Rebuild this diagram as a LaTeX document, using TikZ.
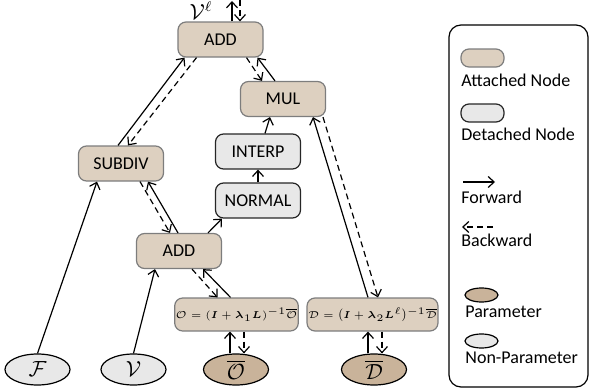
\documentclass[tikz,border=0pt]{standalone}
\usepackage{amsmath}
\usepackage{bm}
\usepackage{fontspec}
\setmainfont{Carlito}
\usetikzlibrary{shapes.geometric,arrows.meta,calc}
\definecolor{attfill}{RGB}{221,208,192}
\definecolor{attdraw}{RGB}{125,125,125}
\definecolor{detfill}{RGB}{232,232,232}
\definecolor{parfill}{RGB}{201,179,154}

\begin{document}
\begin{tikzpicture}[x=0.5pt,y=-0.5pt,
  >={Straight Barb[length=3pt,width=5.5pt]},
  font=\fontsize{9}{10}\selectfont,
  attached/.style={draw=attdraw,fill=attfill,rounded corners=4pt,line width=0.6pt,
    minimum width=42.5pt,minimum height=17.5pt,inner sep=1pt},
  detached/.style={attached,draw=black!85,fill=detfill},
  eqbox/.style={attached,font=\fontsize{5.25}{6}\selectfont,minimum width=58pt,minimum height=16.5pt,inner sep=0.5pt},
  param/.style={ellipse,draw=black,fill=parfill,line width=0.6pt,
    minimum width=32.5pt,minimum height=15.5pt,inner sep=0pt,font=\fontsize{10.5}{11}\selectfont},
  nonparam/.style={param,fill=detfill},
  fwd/.style={->,line width=0.6pt},
  bwd/.style={->,line width=0.6pt,dash pattern=on 3pt off 2pt},
  legtext/.style={anchor=west,inner sep=0pt}]

\useasboundingbox (0,0) rectangle (590,391);

% operation nodes
\node[attached] (addtop) at (220.5,39.5) {ADD};
\node[attached] (mul) at (283,99) {MUL};
\node[detached] (interp) at (258,151.5) {INTERP};
\node[detached] (normal) at (258,200.5) {NORMAL};
\node[attached] (subdiv) at (121,163.5) {SUBDIV};
\node[attached] (addlow) at (179,251) {ADD};
\node[eqbox] (obox) at (236.5,314.5)
  {$\mathcal{O} = (\bm{I} + \bm{\lambda}_1 \bm{L})^{-1}\overline{\mathcal{O}}$};
\node[eqbox] (dbox) at (372.5,314.5)
  {$\mathcal{D} = \big(\bm{I} + \bm{\lambda}_2 \bm{L}^{\ell}\big)^{-1}\overline{\mathcal{D}}$};

% inputs
\node[nonparam] (f) at (37.5,369.5) {$\mathcal{F}$};
\node[nonparam] (v) at (133.5,369.5) {$\mathcal{V}$};
\node[param] (obar) at (236,369.5) {$\overline{\mathcal{O}}$};
\node[param] (dbar) at (374,369.5) {$\overline{\mathcal{D}}$};

% output
\node[font=\fontsize{10.5}{12}\selectfont,inner sep=0.5pt] (vout) at (201,11) {$\mathcal{V}^{\ell}$};
\coordinate (outup) at (232,1);
\coordinate (outdn) at (240,0);

% forward / backward
\draw[fwd] (f.north) -- ($(subdiv.south)+(-24,0)$);
\draw[fwd] (v.north) -- ($(addlow.south)+(-24,0)$);
\draw[fwd] ($(subdiv.north)+(-3,0)$) -- ($(addtop.south)+(-36,0)$);
\draw[bwd] ($(addtop.south)+(-24,0)$) -- ($(subdiv.north)+(7,0)$);
\draw[bwd] ($(addtop.south)+(26,0)$) -- ($(mul.north)+(-21,0)$);
\draw[fwd] ($(mul.north)+(-8,0)$) -- ($(addtop.south)+(37,0)$);
\draw[fwd] ($(interp.north)+(7,0)$) -- ($(mul.south)+(-13,0)$);
\draw[fwd] (normal) -- (interp);
\draw[fwd] ($(addlow.north)+(29,0)$) -- ($(normal.south)+(-36,0)$);
\draw[bwd] ($(subdiv.south)+(19,0)$) -- ($(addlow.north)+(-9,0)$);
\draw[fwd] ($(addlow.north)+(-1,0)$) -- ($(subdiv.south)+(27,0)$);
\draw[bwd] ($(addlow.south)+(13,0)$) -- ($(obox.north)+(-19,0)$);
\draw[fwd] ($(obox.north)+(-6,0)$) -- ($(addlow.south)+(24,0)$);
\draw[fwd] ($(obar.north)+(-6,0)$) -- ($(obox.south)+(-6.5,0)$);
\draw[bwd] ($(obox.south)+(7.5,0)$) -- ($(obar.north)+(8,0)$);
\draw[fwd] ($(dbox.north)+(-4.5,0)$) -- ($(mul.south)+(30,0)$);
\draw[bwd] ($(mul.south)+(40,0)$) -- ($(dbox.north)+(5.5,0)$);
\draw[fwd] ($(dbar.north)+(-6,0)$) -- ($(dbox.south)+(-4.5,0)$);
\draw[bwd] ($(dbox.south)+(9.5,0)$) -- ($(dbar.north)+(8,0)$);
\draw[fwd] ($(addtop.north)+(11.5,0)$) -- (outup);
\draw[bwd] (outdn) -- ($(addtop.north)+(19.5,0)$);

% legend
\draw[line width=0.6pt,rounded corners=6pt] (449,25) rectangle (588,387);
\node[attached,minimum width=21.5pt,minimum height=9pt,inner sep=0pt] (legatt) at (482.5,58) {};
\node[legtext] (legatttxt) at (461,80) {Attached Node};
\node[detached,minimum width=21.5pt,minimum height=9pt,inner sep=0pt] (legdet) at (482.5,113) {};
\node[legtext] (legdettxt) at (461,134) {Detached Node};
\coordinate (legfwda) at (463,182);
\coordinate (legfwdb) at (495,182);
\draw[fwd] (legfwda) -- (legfwdb);
\node[legtext] (legfwdtxt) at (461,197) {Forward};
\coordinate (legbwda) at (493,227);
\coordinate (legbwdb) at (462,227);
\draw[bwd] (legbwda) -- (legbwdb);
\node[legtext] (legbwdtxt) at (461,240) {Backward};
\node[param,minimum width=16.5pt,minimum height=7pt] (legpar) at (481.5,295) {};
\node[legtext] (legpartxt) at (465,312) {Parameter};
\node[nonparam,minimum width=16.5pt,minimum height=7pt] (legnon) at (481.5,341) {};
\node[legtext] (legnontxt) at (465,358) {Non-Parameter};

\end{tikzpicture}
\end{document}
